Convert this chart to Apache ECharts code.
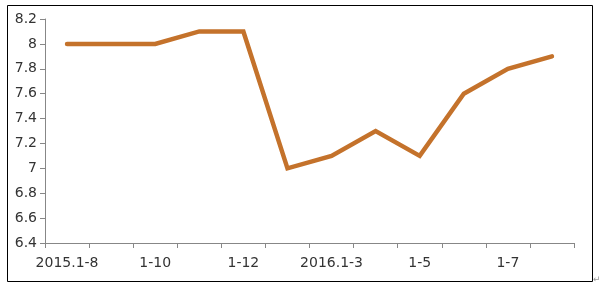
<!DOCTYPE html>
<html><head><meta charset="utf-8">
<script src="https://cdn.jsdelivr.net/npm/echarts@6/dist/echarts.min.js"></script>
<style>html,body{margin:0;padding:0;background:#fff}#c{width:600px;height:288px}</style>
</head><body><div id="c"></div>
<script>
var categories = ['2015.1-8','1-9','1-10','1-11','1-12','2016.1-2','2016.1-3','1-4','1-5','1-6','1-7','1-8'];
var values = [8.0, 8.0, 8.0, 8.1, 8.1, 7.0, 7.1, 7.3, 7.1, 7.6, 7.8, 7.9];
var yMin = 6.4, yMax = 8.2, yStep = 0.2;

var chart = echarts.init(document.getElementById('c'), null, {renderer:'canvas'});
chart.setOption({
  animation:false,
  backgroundColor:'#fff',
  graphic:[
    {type:'rect', shape:{x:7.5,y:5.5,width:585,height:276}, style:{fill:'none',stroke:'#000',lineWidth:1}, silent:true},
    {type:'text', left:593, top:275, style:{text:'↵', fill:'#999', font:'9px DejaVu Sans'}}
  ],
  grid:{left:45, right:26, top:19, bottom:45},
  xAxis:{
    type:'category', data:categories, boundaryGap:true,
    axisLine:{lineStyle:{color:'#878787',width:1}},
    axisTick:{show:true, length:5, interval:0, lineStyle:{color:'#878787'}},
    axisLabel:{interval:1, color:'#333', fontSize:14, fontFamily:'DejaVu Sans', margin:13}
  },
  yAxis:{
    type:'value', min:yMin, max:yMax, interval:yStep,
    axisLine:{show:true, lineStyle:{color:'#878787',width:1}},
    axisTick:{show:true, length:5, lineStyle:{color:'#878787'}},
    splitLine:{show:false},
    axisLabel:{color:'#333', fontSize:14, fontFamily:'DejaVu Sans', margin:8,
      formatter:function(v){return (Math.round(v*10)/10).toString();}}
  },
  series:[{
    type:'line', data:values, symbol:'none',
    lineStyle:{color:'#C4722B', width:4.5, cap:'round', join:'miter'}
  }]
});
</script></body></html>
